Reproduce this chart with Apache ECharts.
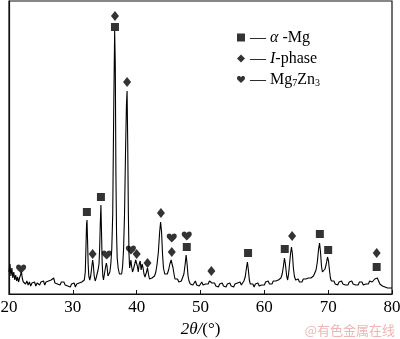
<!DOCTYPE html>
<html>
<head>
<meta charset="utf-8">
<script src="https://cdn.jsdelivr.net/npm/echarts@6/dist/echarts.min.js"></script>
<style>
  html, body { margin: 0; padding: 0; background: #fff; }
  #chart { width: 400px; height: 339px; }
</style>
</head>
<body>
<div id="chart"></div>
<script>
// XRD pattern: [2theta (deg), intensity (a.u.)]
var pattern = [
  [20.0,22],[20.15,30],[20.3,18],[20.45,26],[20.6,16],[20.75,22],[20.9,14],[21.05,19],[21.2,13],[21.35,17],
  [21.5,12],[21.65,16],[21.8,19],[21.95,22],[22.1,15],[22.25,12],[22.4,14],[22.6,10],[22.8,13],[23.0,9],
  [23.2,12],[23.4,8],[23.6,11],[23.8,9],[24.0,12],[24.2,8],[24.4,11],[24.6,13],[24.8,9],[25.0,12],
  [25.2,10],[25.4,13],[25.6,9],[25.8,12],[26.0,10],[26.2,13],[26.4,11],[26.6,14],[26.8,12],[27.0,16],
  [27.2,11],[27.4,13],[27.6,10],[27.8,12],[28.0,9],[28.2,12],[28.4,10],[28.6,12],[28.8,9],[29.0,11],
  [29.2,8],[29.4,10],[29.6,7],[29.8,10],[30.0,8],[30.2,11],[30.4,7],[30.6,10],[30.8,8],[31.0,11],
  [31.2,9],[31.4,12],[31.6,11],[31.8,14],[31.95,22],[32.05,45],[32.15,70],[32.22,74],[32.3,55],[32.4,30],
  [32.5,18],[32.65,14],[32.8,18],[32.95,26],[33.1,34],[33.2,30],[33.35,18],[33.5,13],[33.65,16],[33.8,20],
  [33.95,24],[34.1,30],[34.2,45],[34.3,70],[34.4,89],[34.5,60],[34.6,30],[34.7,18],[34.8,14],[34.95,20],
  [35.1,26],[35.25,31],[35.35,28],[35.5,18],[35.65,16],[35.8,22],[35.95,30],[36.1,45],[36.25,80],[36.4,180],
  [36.55,263],[36.65,230],[36.75,120],[36.85,60],[36.95,36],[37.1,26],[37.3,20],[37.5,18],[37.65,20],[37.8,28],
  [37.95,45],[38.1,80],[38.25,140],[38.4,190],[38.5,203],[38.6,150],[38.7,80],[38.8,40],[38.9,26],[39.0,28],
  [39.1,34],[39.2,28],[39.35,22],[39.5,25],[39.7,30],[39.85,34],[40.0,36],[40.1,28],[40.25,22],[40.4,30],
  [40.55,33],[40.7,24],[40.85,30],[41.0,26],[41.15,20],[41.3,17],[41.5,21],[41.7,26],[41.85,20],[42.0,15],
  [42.2,13],[42.4,16],[42.6,14],[42.8,18],[43.0,22],[43.2,30],[43.4,42],[43.6,62],[43.75,72],[43.9,62],
  [44.05,40],[44.2,26],[44.4,20],[44.6,22],[44.8,20],[45.0,24],[45.2,30],[45.4,34],[45.55,32],[45.7,26],
  [45.85,20],[46.0,15],[46.2,13],[46.4,15],[46.6,12],[46.8,14],[47.0,13],[47.2,15],[47.4,20],[47.6,30],
  [47.75,39],[47.9,30],[48.05,18],[48.2,13],[48.4,10],[48.6,12],[48.8,9],[49.0,11],[49.2,13],[49.4,9],
  [49.6,11],[49.8,8],[50.0,10],[50.2,12],[50.4,9],[50.6,11],[50.8,10],[51.0,12],[51.2,10],[51.4,13],
  [51.6,15],[51.8,11],[52.0,9],[52.2,11],[52.4,8],[52.6,10],[52.8,7],[53.0,10],[53.2,8],[53.4,11],
  [53.6,8],[53.8,10],[54.0,7],[54.2,10],[54.4,8],[54.6,11],[54.8,8],[55.0,10],[55.2,7],[55.4,10],
  [55.6,8],[55.8,11],[56.0,9],[56.2,12],[56.4,9],[56.6,11],[56.8,13],[57.0,17],[57.2,26],[57.35,32],
  [57.5,24],[57.65,14],[57.8,10],[58.0,8],[58.2,10],[58.4,7],[58.6,10],[58.8,8],[59.0,11],[59.2,8],
  [59.4,10],[59.6,9],[59.8,11],[60.0,9],[60.2,12],[60.4,10],[60.6,13],[60.8,10],[61.0,12],[61.2,10],
  [61.4,13],[61.6,11],[61.8,13],[62.0,12],[62.2,14],[62.4,13],[62.6,16],[62.8,20],[63.0,28],[63.15,36],
  [63.3,30],[63.5,18],[63.65,14],[63.8,20],[63.95,30],[64.1,40],[64.25,47],[64.4,40],[64.55,26],[64.7,18],
  [64.9,14],[65.1,13],[65.3,15],[65.5,12],[65.7,14],[65.9,12],[66.1,15],[66.3,13],[66.5,15],[66.7,13],
  [66.9,16],[67.1,14],[67.3,16],[67.5,15],[67.7,18],[67.9,20],[68.1,24],[68.3,32],[68.5,45],[68.65,51],
  [68.8,42],[68.95,28],[69.1,22],[69.3,24],[69.5,25],[69.7,30],[69.9,37],[70.05,33],[70.2,24],[70.35,16],
  [70.5,13],[70.7,11],[70.9,13],[71.1,10],[71.3,12],[71.5,9],[71.7,12],[71.9,10],[72.1,13],[72.3,10],
  [72.5,12],[72.7,9],[72.9,11],[73.1,9],[73.3,12],[73.5,10],[73.7,13],[73.9,10],[74.1,12],[74.3,9],
  [74.5,11],[74.7,9],[74.9,12],[75.1,10],[75.3,12],[75.5,9],[75.7,11],[75.9,10],[76.1,12],[76.3,10],
  [76.5,13],[76.7,11],[76.9,12],[77.1,14],[77.3,15],[77.5,17],[77.7,16],[77.9,13],[78.1,10],[78.3,12],
  [78.5,8],[78.7,10],[78.9,7],[79.1,9],[79.3,6],[79.5,8],[79.7,6],[79.9,7],[80.0,6]
];

// phase markers: [2theta, marker height]
var alphaMg = [[32.2,82],[34.4,97],[36.6,267],[47.85,47],[57.45,41],[63.2,45],[68.7,60],[70.0,44],[77.6,27]];
var iPhase = [[33.1,40],[36.6,278],[38.5,212],[40.0,40],[41.7,31],[43.8,81],[45.5,42],[51.7,23],[64.35,58],[77.6,41]];
var mg7zn3 = [[21.9,25],[35.3,39],[39.1,44],[45.5,56],[47.85,58]];

var xTicks = [20, 30, 40, 50, 60, 70, 80];

var serif = 'Liberation Serif';
var heart = 'path://M50,92 L12,54 C-6,36 2,6 26,6 C38,6 46,14 50,22 C54,14 62,6 74,6 C98,6 106,36 88,54 Z';

var legendText = {
  'α-Mg': '— {i|α} -Mg',
  'I-phase': '— {i|I}-phase',
  'Mg7Zn3': '— Mg{s|7}Zn{s|3}'
};

var myChart = echarts.init(document.getElementById('chart'));
var option = {
  animation: false,
  grid: {
    left: 9, right: 8, top: 1, bottom: 45,
    outerBoundsMode: 'none',
    show: true, borderColor: '#111', borderWidth: 1.2
  },
  legend: {
    orient: 'vertical',
    left: 232, top: 24,
    itemWidth: 8, itemHeight: 8,
    itemGap: 4,
    selectedMode: false,
    data: ['α-Mg', 'I-phase', 'Mg7Zn3'],
    formatter: function (name) { return legendText[name]; },
    textStyle: {
      fontFamily: serif, fontSize: 16, color: '#000', lineHeight: 17,
      rich: {
        i: { fontFamily: serif, fontSize: 16, fontStyle: 'italic', color: '#000' },
        s: { fontFamily: serif, fontSize: 10, color: '#000', verticalAlign: 'bottom', lineHeight: 12, padding: [6, 0, 0, 0] }
      }
    }
  },
  xAxis: {
    type: 'value',
    min: 20, max: 80, interval: 10,
    name: '{i|2θ/}(°)',
    nameLocation: 'middle',
    nameGap: 26,
    nameTextStyle: {
      fontFamily: serif, fontSize: 17, color: '#000',
      rich: { i: { fontFamily: serif, fontSize: 17, fontStyle: 'italic', color: '#000' } }
    },
    axisLine: { lineStyle: { color: '#111', width: 1.2 } },
    axisTick: { inside: true, length: 4, lineStyle: { color: '#111' } },
    axisLabel: {
      fontFamily: serif, fontSize: 17, color: '#000', margin: 5,
      formatter: function (v) { return xTicks.indexOf(v) >= 0 ? String(v) : ''; }
    },
    splitLine: { show: false }
  },
  yAxis: {
    type: 'value',
    min: 0, max: 293,
    axisLine: { show: true, lineStyle: { color: '#111', width: 1.2 } },
    axisTick: { show: false },
    axisLabel: { show: false },
    splitLine: { show: false }
  },
  graphic: [{
    type: 'text',
    right: 5, bottom: 2,
    style: {
      text: '@有色金属在线',
      fontFamily: 'Noto Sans CJK SC', fontSize: 13,
      fill: '#efb5b5'
    }
  }],
  series: [{
    type: 'line',
    data: pattern,
    showSymbol: false,
    silent: true,
    lineStyle: { color: '#000', width: 1.1 },
    z: 1
  }, {
    name: 'α-Mg', type: 'scatter', data: alphaMg,
    symbol: 'rect', symbolSize: 8,
    itemStyle: { color: '#000' }, z: 3
  }, {
    name: 'I-phase', type: 'scatter', data: iPhase,
    symbol: 'diamond', symbolSize: [8, 10],
    itemStyle: { color: '#000' }, z: 3
  }, {
    name: 'Mg7Zn3', type: 'scatter', data: mg7zn3,
    symbol: heart, symbolSize: [10, 9],
    itemStyle: { color: '#000' }, z: 3
  }]
};
myChart.setOption(option);
</script>
</body>
</html>
